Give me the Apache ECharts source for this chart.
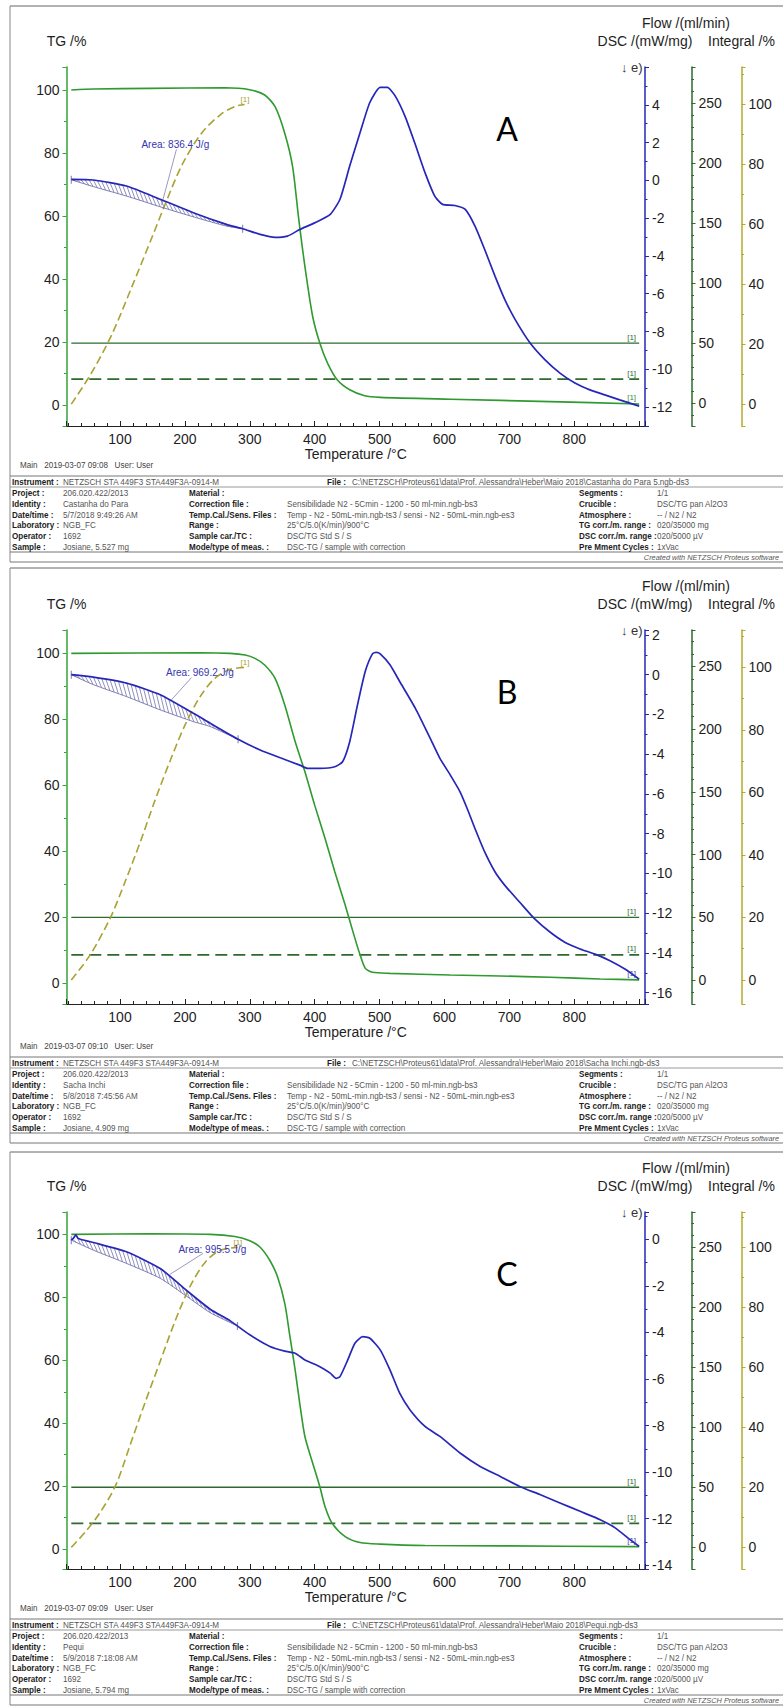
<!DOCTYPE html>
<html><head><meta charset="utf-8">
<script src="https://cdn.jsdelivr.net/npm/echarts@6/dist/echarts.min.js"></script>
<style>html,body{margin:0;padding:0;background:#fff}#c{width:783px;height:1706px}</style>
</head><body><div id="c"></div>
<script>
// ---------------- DATA ----------------
const X_TICK_LABELS = [100,200,300,400,500,600,700,800];
const FLOW_SOLID = 50, FLOW_DASHED = 20, FLOW_SPAN = [25, 900];

const TG_A = [[25,100],[60,100.3],[146,100.5],[262,100.7],[300,100.1],[323,98.4],[339,94.7],[354,86.2],[366,75.7],[375,59.8],[385,43.9],[397,28],[408,19.6],[420,13.2],[435,7.9],[454,4.8],[477,2.9],[501,2.4],[609,1.8],[763,1.05],[900,0.3]];
const DSC_A = [[25,0.05],[59,0.02],[110,-0.3],[162,-1.0],[213,-1.71],[264,-2.33],[289,-2.56],[316,-2.86],[339,-3.02],[358,-2.95],[377,-2.6],[400,-2.25],[424,-1.8],[439,-1.0],[454,0.76],[470,2.53],[485,4.12],[501,4.92],[512,4.92],[524,4.47],[539,3.41],[554,2.0],[570,0.41],[585,-0.83],[597,-1.27],[616,-1.33],[632,-1.54],[647,-2.42],[662,-3.66],[678,-5.08],[693,-6.31],[709,-7.37],[732,-8.61],[755,-9.5],[778,-10.2],[801,-10.73],[824,-11.09],[847,-11.35],[870,-11.62],[900,-11.95]];
const BASE_A = [[25,0.03],[59,-0.33],[110,-0.83],[162,-1.4],[213,-1.93],[264,-2.42],[289,-2.56]];
const INT_A = [[25,0],[55,10],[87,23],[118,39],[150,56],[172,68],[196,80],[226,90.5],[256,96.8],[278,99.4],[292,100]];

const TG_B = [[25,100],[223,100.2],[270,100],[293,99.5],[308,98.5],[323,96.5],[339,92.4],[354,84.3],[370,73.2],[385,64.1],[400,54],[416,43.9],[431,33.8],[447,23.7],[462,13.6],[470,8.6],[478,4.5],[489,3.3],[516,3.0],[609,2.5],[686,2.2],[763,1.8],[840,1.3],[900,1.0]];
const DSC_B = [[25,0],[59,-0.12],[110,-0.42],[162,-1.01],[213,-1.94],[239,-2.44],[282,-3.25],[316,-3.79],[347,-4.18],[377,-4.55],[389,-4.71],[408,-4.71],[431,-4.63],[443,-4.38],[454,-3.37],[466,-1.52],[478,0.17],[489,1.05],[495,1.12],[501,1.05],[516,0.5],[531,-0.34],[555,-1.68],[578,-3.2],[593,-4.21],[609,-5.05],[624,-5.89],[635,-6.73],[647,-7.74],[662,-8.92],[678,-9.93],[693,-10.6],[716,-11.45],[739,-12.29],[763,-12.96],[786,-13.47],[809,-13.8],[832,-14.06],[855,-14.39],[878,-14.81],[900,-15.32]];
const BASE_B = [[25,0],[59,-0.5],[110,-1.1],[162,-1.77],[213,-2.36],[239,-2.61],[282,-3.25]];
const INT_B = [[25,0],[54,8],[85,19.8],[108,31.5],[131,44],[154,57.5],[177,70],[200,81.5],[223,90.5],[246,96.5],[270,99.4],[292,100]];

const TG_C = [[25,100],[146,100.2],[239,100],[277,99.3],[300,98],[316,95.9],[331,91.7],[343,86.4],[354,78],[362,67.4],[370,56.8],[377,46.3],[385,35.7],[397,27.3],[408,19.8],[416,13.5],[427,8.2],[447,4.0],[470,2.1],[501,1.6],[570,1.15],[686,1.05],[900,0.8]];
const DSC_C = [[25,-0.03],[29,0.08],[32,0.2],[35,0.06],[40,0],[59,-0.13],[110,-0.53],[162,-1.25],[203,-2.2],[239,-3.0],[270,-3.5],[300,-4.1],[331,-4.6],[354,-4.8],[370,-4.89],[385,-5.18],[408,-5.47],[424,-5.75],[433,-5.97],[439,-5.9],[451,-5.18],[462,-4.46],[474,-4.18],[485,-4.25],[501,-4.75],[516,-5.61],[531,-6.61],[547,-7.33],[570,-8.04],[593,-8.47],[624,-9.18],[655,-9.76],[686,-10.19],[716,-10.62],[747,-10.97],[778,-11.33],[809,-11.69],[840,-12.05],[863,-12.4],[886,-12.91],[900,-13.2]];
const BASE_C = [[25,-0.03],[59,-0.46],[110,-1.03],[162,-1.67],[203,-2.45],[239,-3.15],[281,-3.72]];
const INT_C = [[25,0],[46,5],[69,11.5],[94,21],[117,35],[139,48.5],[162,62],[185,75.5],[208,87],[231,95],[254,99],[281,100]];

const AREA_TEXT = ['Area: 836.4 J/g', 'Area: 969.2 J/g', 'Area: 995.5 J/g'];
const AREA_LABEL_AT = [[133,1.9],[171,0.09],[190,-0.42]];
const AREA_LEADER = [[[187,1.64],[164,-1.3]], [[210,-0.15],[177,-1.35]], [[228,-0.6],[177,-1.5]]];
const LETTERS = ['A','B','C'];
const MAIN_TEXT = ['Main   2019-03-07 09:08   User: User','Main   2019-03-07 09:10   User: User','Main   2019-03-07 09:09   User: User'];
const FILE_TEXT = [
 'C:\\NETZSCH\\Proteus61\\data\\Prof. Alessandra\\Heber\\Maio 2018\\Castanha do Para 5.ngb-ds3',
 'C:\\NETZSCH\\Proteus61\\data\\Prof. Alessandra\\Heber\\Maio 2018\\Sacha Inchi.ngb-ds3',
 'C:\\NETZSCH\\Proteus61\\data\\Prof. Alessandra\\Heber\\Maio 2018\\Pequi.ngb-ds3'];
const INSTRUMENT = 'NETZSCH STA 449F3 STA449F3A-0914-M';
const COL1_LABELS = ['Project :','Identity :','Date/time :','Laboratory :','Operator :','Sample :'];
const COL1_VALUES = [
 ['206.020.422/2013','Castanha do Para','5/7/2018 9:49:26 AM','NGB_FC','1692','Josiane, 5.527 mg'],
 ['206.020.422/2013','Sacha Inchi','5/8/2018 7:45:56 AM','NGB_FC','1692','Josiane, 4.909 mg'],
 ['206.020.422/2013','Pequi','5/9/2018 7:18:08 AM','NGB_FC','1692','Josiane, 5.794 mg']];
const COL2_LABELS = ['Material :','Correction file :','Temp.Cal./Sens. Files :','Range :','Sample car./TC :','Mode/type of meas. :'];
const COL2_VALUES = ['','Sensibilidade N2 - 5Cmin - 1200 - 50 ml-min.ngb-bs3','Temp - N2 - 50mL-min.ngb-ts3 / sensi - N2 - 50mL-min.ngb-es3','25°C/5.0(K/min)/900°C','DSC/TG Std S / S','DSC-TG / sample with correction'];
const COL3_LABELS = ['Segments :','Crucible :','Atmosphere :','TG corr./m. range :','DSC corr./m. range :','Pre Mment Cycles :'];
const COL3_VALUES = ['1/1','DSC/TG pan Al2O3','-- / N2 / N2','020/35000 mg','020/5000 µV','1xVac'];

const SETS = [
 {tg:TG_A, dsc:DSC_A, base:BASE_A, integral:INT_A},
 {tg:TG_B, dsc:DSC_B, base:BASE_B, integral:INT_B},
 {tg:TG_C, dsc:DSC_C, base:BASE_C, integral:INT_C}];

// ---------------- LAYOUT ----------------
const PANELS = [
 {frameTop:6,    top:67,   bottom:426,  main:465,  tg:[-6.7,107.3], dsc:[-13,6],        dscSplit:10, flow:[-19,280],   integral:[-7.3,112.5], tagOnTG:true},
 {frameTop:568,  top:630,  bottom:1004, main:1046, tg:[-6.3,107.1], dsc:[-16.57,2.25],  dscSplit:10, flow:[-19.1,279], integral:[-7.7,112],   tagOnTG:false},
 {frameTop:1152, top:1212, bottom:1569, main:1608, tg:[-6.3,107.1], dsc:[-14.17,1.18],  dscSplit:8,  flow:[-18,279],   integral:[-7.2,111.8], tagOnTG:false}];
const GL = 66.5, GR = 645, XMIN = 17.6, XMAX = 909;
const F = "'Liberation Sans', Arial, Helvetica, sans-serif";
const C_TG='#2f9a2f', C_TGAX='#35a335', C_DSC='#2626b8', C_BASE='#7272ac', C_INT='#a9a233', C_INTAX='#b3ab2c', C_FLOW='#2e6a2e', C_TXT='#1e1e1e';

function interp(arr, t){
  if (t <= arr[0][0]) return arr[0][1];
  for (let i=1;i<arr.length;i++){ if (t<=arr[i][0]){ const a=arr[i-1], b=arr[i]; return a[1]+(b[1]-a[1])*(t-a[0])/(b[0]-a[0]); } }
  return arr[arr.length-1][1];
}
function hatchRender(dsc, base){
  return function(params, api){
    const t0=base[0][0], t1=base[base.length-1][0];
    const pA=api.coord([t0,0]), pB=api.coord([t1,0]);
    const ppt=(pB[0]-pA[0])/(t1-t0);
    const slant=4, children=[];
    for (let px=pA[0]+slant+1; px<=pB[0]; px+=4.2){
      const tl=t0+(px-pA[0])/ppt, tu=tl-slant/ppt;
      const lo=api.coord([tl, interp(base,tl)]), up=api.coord([tu, interp(dsc,tu)]);
      if (up[1] < lo[1]-0.6) children.push({type:'line', shape:{x1:lo[0],y1:lo[1],x2:up[0],y2:up[1]}, style:{stroke:C_BASE, lineWidth:0.8}});
    }
    return {type:'group', children};
  };
}

const grids=[], xAxes=[], yAxes=[], series=[], graphics=[];
const labelStyle = {fontSize:14, color:C_TXT, fontFamily:F};
function yAx(i, pos, offset, range, split, color, name, nameGap, minorSplit, extra){
  return Object.assign({
    type:'value', gridIndex:i, position:pos, offset, min:range[0], max:range[1], splitNumber:split,
    name, nameLocation:'end', nameGap, nameTextStyle:{fontSize:14, color:C_TXT, fontFamily:F},
    axisLine:{show:true, onZero:false, lineStyle:{color, width:1.5}},
    axisTick:{show:true, length:4, lineStyle:{color, width:1}},
    minorTick:{show:true, splitNumber:minorSplit, length:2.5, lineStyle:{color, width:1}},
    splitLine:{show:false},
    axisLabel:Object.assign({margin:7, showMinLabel:false, showMaxLabel:false}, labelStyle)
  }, extra||{});
}
function text(x,y,t,o){
  o=o||{};
  graphics.push({type:'text', x, y, scaleX:o.sx||1, silent:true, z:10,
    style:{text:t, x:0, y:0, fill:o.fill||C_TXT, fontSize:o.size||9, fontFamily:o.family||F, fontWeight:o.weight||'normal', fontStyle:o.style||'normal', align:o.align||'left', verticalAlign:'middle'}});
}
function hline(x1,x2,y,c,w){ graphics.push({type:'line', silent:true, shape:{x1,y1:y,x2,y2:y}, style:{stroke:c||'#888', lineWidth:w||1}}); }
function vline(x,y1,y2,c,w){ graphics.push({type:'line', silent:true, shape:{x1:x,y1,x2:x,y2}, style:{stroke:c||'#888', lineWidth:w||1}}); }

PANELS.forEach((p,i)=>{
  const S = SETS[i];
  grids.push({left:GL, top:p.top, width:GR-GL, height:p.bottom-p.top, containLabel:false});
  xAxes.push({type:'value', gridIndex:i, min:XMIN, max:XMAX, splitNumber:9,
    name:'Temperature /°C', nameLocation:'middle', nameGap:21, nameTextStyle:{fontSize:14, color:C_TXT, fontFamily:F},
    axisLine:{onZero:false, lineStyle:{color:'#222', width:1}},
    axisTick:{inside:true, length:5, lineStyle:{color:'#222'}},
    minorTick:{show:true, splitNumber:5, length:3, lineStyle:{color:'#222'}},
    splitLine:{show:false},
    axisLabel:Object.assign({margin:6, showMinLabel:false, showMaxLabel:false, formatter:v=>X_TICK_LABELS.includes(Math.round(v))&&Math.abs(v-Math.round(v))<1e-6?String(Math.round(v)):''}, labelStyle)});
  const yb = i*4;
  yAxes.push(yAx(i,'left',0,p.tg,6,C_TGAX,'TG /%',19,2));
  yAxes.push(yAx(i,'right',0,p.dsc,p.dscSplit,C_DSC,'DSC /(mW/mg)',19,2));
  yAxes.push(yAx(i,'right',46.5,p.flow,6,C_FLOW,'Flow /(ml/min)',37,5,{nameTextStyle:{fontSize:14,color:C_TXT,fontFamily:F,padding:[0,11,0,0]}}));
  yAxes.push(yAx(i,'right',96.5,p.integral,6,C_INTAX,'Integral /%',19,2));

  const tag = (color, off)=>({show:true, formatter:'[1]', fontSize:8, fontFamily:F, color, offset:off, distance:0});
  series.push({type:'line', name:'flow50', xAxisIndex:i, yAxisIndex:yb+2, data:FLOW_SPAN.map(t=>[t,FLOW_SOLID]), showSymbol:false, silent:true, z:2,
    lineStyle:{color:C_FLOW, width:1.3}, endLabel:tag(C_FLOW,[-12,-6])});
  series.push({type:'line', name:'flow20', xAxisIndex:i, yAxisIndex:yb+2, data:FLOW_SPAN.map(t=>[t,FLOW_DASHED]), showSymbol:false, silent:true, z:2,
    lineStyle:{color:C_FLOW, width:1.8, type:[12,6]}, endLabel:tag(C_FLOW,[-12,-6])});
  series.push({type:'line', name:'integral', xAxisIndex:i, yAxisIndex:yb+3, data:S.integral, showSymbol:false, silent:true, smooth:0.3, z:3,
    lineStyle:{color:C_INT, width:1.6, type:[8,4]}, endLabel:tag(C_INT,[-4,-5])});
  series.push({type:'line', name:'TG', xAxisIndex:i, yAxisIndex:yb, data:S.tg, showSymbol:false, silent:true, smooth:0.25, z:4,
    lineStyle:{color:C_TG, width:1.6}, endLabel: p.tagOnTG ? tag('#3d8a3d',[-12,-6]) : {show:false}});
  series.push({type:'custom', name:'hatch', xAxisIndex:i, yAxisIndex:yb+1, data:[[S.base[0][0], S.base[0][1]]], renderItem:hatchRender(S.dsc,S.base), silent:true, z:3});
  series.push({type:'line', name:'baseline', xAxisIndex:i, yAxisIndex:yb+1, data:S.base, showSymbol:false, silent:true, smooth:0.2, z:3,
    lineStyle:{color:C_BASE, width:0.9},
    markLine:{silent:true, symbol:'none', animation:false, label:{show:false}, lineStyle:{color:'#8080b0', width:0.8, type:'solid'},
      data:[[{coord:AREA_LEADER[i][0]},{coord:AREA_LEADER[i][1]}]]},
    markPoint:{silent:true, animation:false, symbolSize:0,
      data:[{coord:AREA_LABEL_AT[i], label:{show:true, position:'right', distance:0, formatter:AREA_TEXT[i], color:'#3535b0', fontSize:10, fontFamily:F}}]}});
  series.push({type:'scatter', name:'baseEnds', xAxisIndex:i, yAxisIndex:yb+1, data:[S.base[0], S.base[S.base.length-1]], symbol:'rect', symbolSize:[1.2,8], silent:true, z:5,
    itemStyle:{color:C_BASE}});
  series.push({type:'line', name:'DSC', xAxisIndex:i, yAxisIndex:yb+1, data:S.dsc, showSymbol:false, silent:true, smooth:0.2, z:6,
    lineStyle:{color:C_DSC, width:1.7}, endLabel: p.tagOnTG ? {show:false} : tag('#4040b0',[-12,-6])});

  // annotations and frame
  text(621, p.top, '↓ e)', {size:13, fill:'#333'});
  text(507, p.top+61, LETTERS[i], {size:32, family:"Lato, 'Open Sans', sans-serif", fill:'#000', align:'center'});
  const m = p.main;
  hline(10, 783, p.frameTop, '#666', 1);
  vline(10, p.frameTop, m+97, '#888', 1);
  text(20, m, MAIN_TEXT[i], {size:8.5, fill:'#444', sx:0.95});
  hline(10, 783, m+11, '#777', 1);
  text(12, m+17, 'Instrument :', {weight:'bold', sx:0.9});
  text(63, m+17, INSTRUMENT, {fill:'#555', sx:0.9});
  text(327, m+17, 'File :', {weight:'bold', sx:0.9});
  text(352, m+17, FILE_TEXT[i], {fill:'#555', sx:0.9});
  hline(10, 783, m+22, '#999', 1);
  for (let r=0;r<6;r++){
    const y = m+28+r*10.7;
    text(12, y, COL1_LABELS[r], {weight:'bold', sx:0.9});
    text(63, y, COL1_VALUES[i][r], {fill:'#555', sx:0.9});
    text(189, y, COL2_LABELS[r], {weight:'bold', sx:0.9});
    text(287, y, COL2_VALUES[r], {fill:'#555', sx:0.9});
    text(579, y, COL3_LABELS[r], {weight:'bold', sx:0.9});
    text(657, y, COL3_VALUES[r], {fill:'#555', sx:0.9});
  }
  hline(10, 783, m+87, '#777', 1);
  text(779, m+92, 'Created with NETZSCH Proteus software', {size:8, style:'italic', fill:'#555', sx:0.92, align:'right'});
  hline(10, 783, m+97, '#777', 1);
});

const chart = echarts.init(document.getElementById('c'), null, {renderer:'svg'});
chart.setOption({animation:false, backgroundColor:'#fff', grid:grids, xAxis:xAxes, yAxis:yAxes, series, graphic:graphics});
</script></body></html>
